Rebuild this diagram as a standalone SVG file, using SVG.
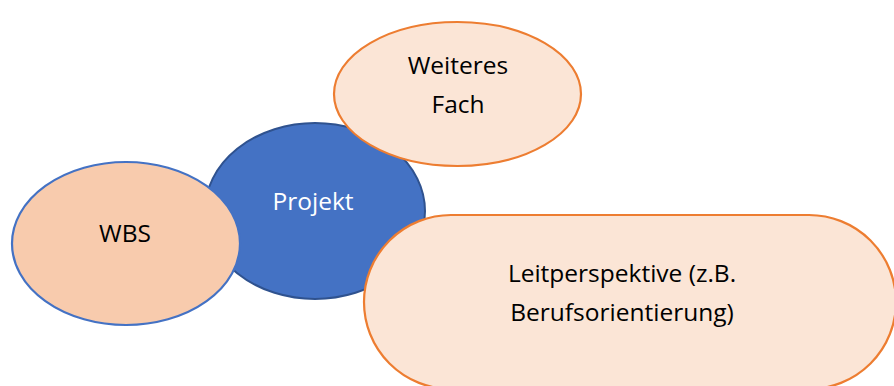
<svg xmlns="http://www.w3.org/2000/svg" width="894" height="386" viewBox="0 0 894 386">
<style>
.t{font-family:"Open Sans","Liberation Sans",Arial,sans-serif;font-size:24.5px;text-anchor:middle;fill:#000}
.w{fill:#fff}
.light{fill:#FBE5D6;stroke:#ED7D31;stroke-width:2.2}
</style>
<rect width="894" height="386" fill="#fff"/>
<g id="connectors"></g>
<g id="projekt">
<ellipse cx="315" cy="211" rx="110" ry="88" fill="#4472C4" stroke="#2F528F" stroke-width="2"/>
<text class="t w" x="313" y="210">Projekt</text>
</g>
<g id="wbs">
<ellipse cx="126" cy="243.5" rx="114" ry="81.5" fill="#F8CBAD" stroke="#4472C4" stroke-width="2.2"/>
<text class="t" x="125" y="242">WBS</text>
</g>
<g id="fach">
<ellipse class="light" cx="457.5" cy="94" rx="123.5" ry="72"/>
<text class="t" x="458" y="74">Weiteres</text>
<text class="t" x="458" y="113">Fach</text>
</g>
<g id="leitperspektive">
<rect class="light" x="364" y="215" width="532" height="174" rx="87" ry="87"/>
<text class="t" x="622" y="282">Leitperspektive (z.B.</text>
<text class="t" x="622" y="321">Berufsorientierung)</text>
</g>
</svg>
